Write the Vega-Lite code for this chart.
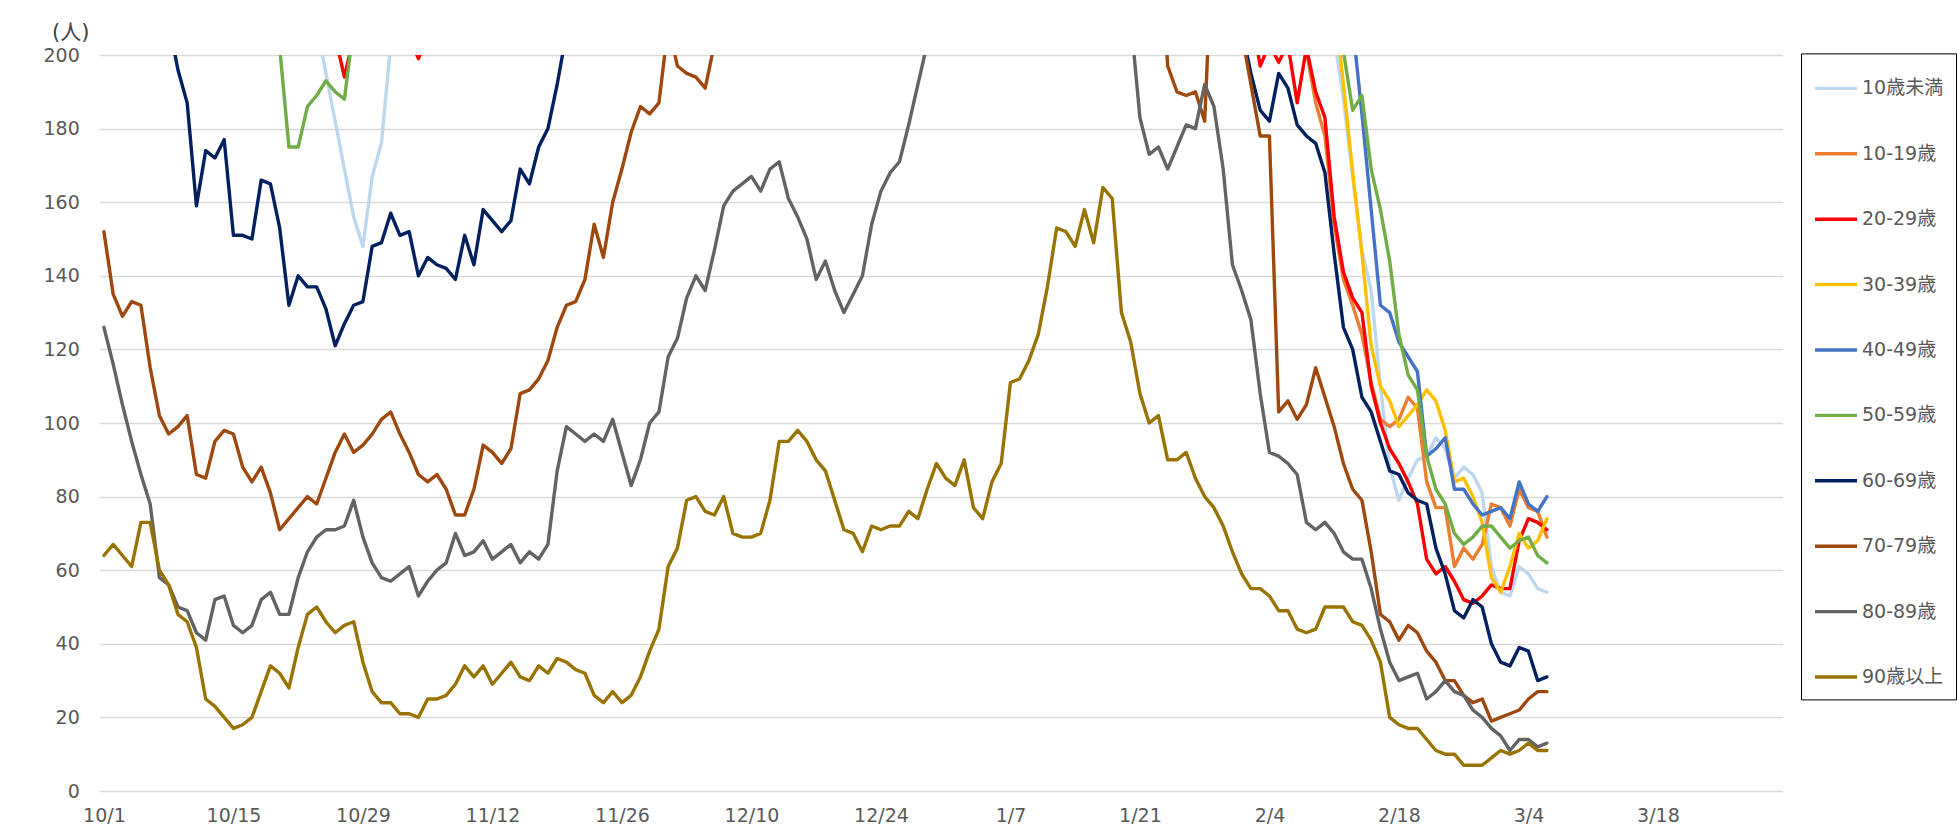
{
"$schema": "https://vega.github.io/schema/vega-lite/v6.json",
"width": 1683.5, "height": 736,
"autosize": {"type": "none"},
"padding": {"left": 99.3, "top": 55, "right": 174.2, "bottom": 46},
"background": "white",
"config": {"view": {"stroke": null}},
"data": {"values": [
{"d":"2020-10-24","s":"10歳未満","v":208},{"d":"2020-10-25","s":"10歳未満","v":195},{"d":"2020-10-26","s":"10歳未満","v":182},{"d":"2020-10-27","s":"10歳未満","v":169},{"d":"2020-10-28","s":"10歳未満","v":156},{"d":"2020-10-29","s":"10歳未満","v":148},{"d":"2020-10-30","s":"10歳未満","v":167},{"d":"2020-10-31","s":"10歳未満","v":176},{"d":"2020-11-01","s":"10歳未満","v":203},
{"d":"2021-02-10","s":"10歳未満","v":225},{"d":"2021-02-11","s":"10歳未満","v":205},{"d":"2021-02-12","s":"10歳未満","v":188},{"d":"2021-02-13","s":"10歳未満","v":167},{"d":"2021-02-14","s":"10歳未満","v":147},{"d":"2021-02-15","s":"10歳未満","v":136},{"d":"2021-02-16","s":"10歳未満","v":110},{"d":"2021-02-17","s":"10歳未満","v":88},{"d":"2021-02-18","s":"10歳未満","v":79},{"d":"2021-02-19","s":"10歳未満","v":85},{"d":"2021-02-20","s":"10歳未満","v":90},{"d":"2021-02-21","s":"10歳未満","v":91},{"d":"2021-02-22","s":"10歳未満","v":96},{"d":"2021-02-23","s":"10歳未満","v":93},{"d":"2021-02-24","s":"10歳未満","v":85},{"d":"2021-02-25","s":"10歳未満","v":88},{"d":"2021-02-26","s":"10歳未満","v":86},{"d":"2021-02-27","s":"10歳未満","v":81},{"d":"2021-02-28","s":"10歳未満","v":61},{"d":"2021-03-01","s":"10歳未満","v":54},{"d":"2021-03-02","s":"10歳未満","v":53},{"d":"2021-03-03","s":"10歳未満","v":61},{"d":"2021-03-04","s":"10歳未満","v":59},{"d":"2021-03-05","s":"10歳未満","v":55},{"d":"2021-03-06","s":"10歳未満","v":54},
{"d":"2021-02-07","s":"10-19歳","v":212},{"d":"2021-02-08","s":"10-19歳","v":201},{"d":"2021-02-09","s":"10-19歳","v":187},{"d":"2021-02-10","s":"10-19歳","v":178},{"d":"2021-02-11","s":"10-19歳","v":154},{"d":"2021-02-12","s":"10-19歳","v":139},{"d":"2021-02-13","s":"10-19歳","v":132},{"d":"2021-02-14","s":"10-19歳","v":124},{"d":"2021-02-15","s":"10-19歳","v":111},{"d":"2021-02-16","s":"10-19歳","v":101},{"d":"2021-02-17","s":"10-19歳","v":99},{"d":"2021-02-18","s":"10-19歳","v":101},{"d":"2021-02-19","s":"10-19歳","v":107},{"d":"2021-02-20","s":"10-19歳","v":104},{"d":"2021-02-21","s":"10-19歳","v":84},{"d":"2021-02-22","s":"10-19歳","v":77},{"d":"2021-02-23","s":"10-19歳","v":77},{"d":"2021-02-24","s":"10-19歳","v":61},{"d":"2021-02-25","s":"10-19歳","v":66},{"d":"2021-02-26","s":"10-19歳","v":63},{"d":"2021-02-27","s":"10-19歳","v":67},{"d":"2021-02-28","s":"10-19歳","v":78},{"d":"2021-03-01","s":"10-19歳","v":77},{"d":"2021-03-02","s":"10-19歳","v":72},{"d":"2021-03-03","s":"10-19歳","v":82},{"d":"2021-03-04","s":"10-19歳","v":77},{"d":"2021-03-05","s":"10-19歳","v":76},{"d":"2021-03-06","s":"10-19歳","v":69},
{"d":"2020-10-26","s":"20-29歳","v":205},{"d":"2020-10-27","s":"20-29歳","v":194},{"d":"2020-10-28","s":"20-29歳","v":205},{"d":"2020-11-03","s":"20-29歳","v":205},{"d":"2020-11-04","s":"20-29歳","v":199},{"d":"2020-11-05","s":"20-29歳","v":205},
{"d":"2021-02-02","s":"20-29歳","v":212},{"d":"2021-02-03","s":"20-29歳","v":197},{"d":"2021-02-04","s":"20-29歳","v":203},{"d":"2021-02-05","s":"20-29歳","v":198},{"d":"2021-02-06","s":"20-29歳","v":203},{"d":"2021-02-07","s":"20-29歳","v":187},{"d":"2021-02-08","s":"20-29歳","v":202},{"d":"2021-02-09","s":"20-29歳","v":190},{"d":"2021-02-10","s":"20-29歳","v":183},{"d":"2021-02-11","s":"20-29歳","v":156},{"d":"2021-02-12","s":"20-29歳","v":141},{"d":"2021-02-13","s":"20-29歳","v":134},{"d":"2021-02-14","s":"20-29歳","v":130},{"d":"2021-02-15","s":"20-29歳","v":110},{"d":"2021-02-16","s":"20-29歳","v":100},{"d":"2021-02-17","s":"20-29歳","v":93},{"d":"2021-02-18","s":"20-29歳","v":89},{"d":"2021-02-19","s":"20-29歳","v":84},{"d":"2021-02-20","s":"20-29歳","v":78},{"d":"2021-02-21","s":"20-29歳","v":63},{"d":"2021-02-22","s":"20-29歳","v":59},{"d":"2021-02-23","s":"20-29歳","v":61},{"d":"2021-02-24","s":"20-29歳","v":57},{"d":"2021-02-25","s":"20-29歳","v":52},{"d":"2021-02-26","s":"20-29歳","v":51},{"d":"2021-02-27","s":"20-29歳","v":53},{"d":"2021-02-28","s":"20-29歳","v":56},{"d":"2021-03-01","s":"20-29歳","v":55},{"d":"2021-03-02","s":"20-29歳","v":55},{"d":"2021-03-03","s":"20-29歳","v":68},{"d":"2021-03-04","s":"20-29歳","v":74},{"d":"2021-03-05","s":"20-29歳","v":73},{"d":"2021-03-06","s":"20-29歳","v":71},
{"d":"2021-02-11","s":"30-39歳","v":215},{"d":"2021-02-12","s":"30-39歳","v":192},{"d":"2021-02-13","s":"30-39歳","v":168},{"d":"2021-02-14","s":"30-39歳","v":146},{"d":"2021-02-15","s":"30-39歳","v":121},{"d":"2021-02-16","s":"30-39歳","v":110},{"d":"2021-02-17","s":"30-39歳","v":106},{"d":"2021-02-18","s":"30-39歳","v":99},{"d":"2021-02-19","s":"30-39歳","v":102},{"d":"2021-02-20","s":"30-39歳","v":105},{"d":"2021-02-21","s":"30-39歳","v":109},{"d":"2021-02-22","s":"30-39歳","v":106},{"d":"2021-02-23","s":"30-39歳","v":98},{"d":"2021-02-24","s":"30-39歳","v":84},{"d":"2021-02-25","s":"30-39歳","v":85},{"d":"2021-02-26","s":"30-39歳","v":80},{"d":"2021-02-27","s":"30-39歳","v":73},{"d":"2021-02-28","s":"30-39歳","v":58},{"d":"2021-03-01","s":"30-39歳","v":54},{"d":"2021-03-02","s":"30-39歳","v":61},{"d":"2021-03-03","s":"30-39歳","v":70},{"d":"2021-03-04","s":"30-39歳","v":66},{"d":"2021-03-05","s":"30-39歳","v":68},{"d":"2021-03-06","s":"30-39歳","v":74},
{"d":"2021-02-12","s":"40-49歳","v":240},{"d":"2021-02-13","s":"40-49歳","v":208},{"d":"2021-02-14","s":"40-49歳","v":184},{"d":"2021-02-15","s":"40-49歳","v":158},{"d":"2021-02-16","s":"40-49歳","v":132},{"d":"2021-02-17","s":"40-49歳","v":130},{"d":"2021-02-18","s":"40-49歳","v":122},{"d":"2021-02-19","s":"40-49歳","v":118},{"d":"2021-02-20","s":"40-49歳","v":114},{"d":"2021-02-21","s":"40-49歳","v":91},{"d":"2021-02-22","s":"40-49歳","v":93},{"d":"2021-02-23","s":"40-49歳","v":96},{"d":"2021-02-24","s":"40-49歳","v":82},{"d":"2021-02-25","s":"40-49歳","v":82},{"d":"2021-02-26","s":"40-49歳","v":78},{"d":"2021-02-27","s":"40-49歳","v":75},{"d":"2021-02-28","s":"40-49歳","v":76},{"d":"2021-03-01","s":"40-49歳","v":77},{"d":"2021-03-02","s":"40-49歳","v":74},{"d":"2021-03-03","s":"40-49歳","v":84},{"d":"2021-03-04","s":"40-49歳","v":78},{"d":"2021-03-05","s":"40-49歳","v":76},{"d":"2021-03-06","s":"40-49歳","v":80},
{"d":"2020-10-19","s":"50-59歳","v":230},{"d":"2020-10-20","s":"50-59歳","v":202},{"d":"2020-10-21","s":"50-59歳","v":175},{"d":"2020-10-22","s":"50-59歳","v":175},{"d":"2020-10-23","s":"50-59歳","v":186},{"d":"2020-10-24","s":"50-59歳","v":189},{"d":"2020-10-25","s":"50-59歳","v":193},{"d":"2020-10-26","s":"50-59歳","v":190},{"d":"2020-10-27","s":"50-59歳","v":188},{"d":"2020-10-28","s":"50-59歳","v":208},
{"d":"2021-02-11","s":"50-59歳","v":230},{"d":"2021-02-12","s":"50-59歳","v":201},{"d":"2021-02-13","s":"50-59歳","v":185},{"d":"2021-02-14","s":"50-59歳","v":189},{"d":"2021-02-15","s":"50-59歳","v":169},{"d":"2021-02-16","s":"50-59歳","v":158},{"d":"2021-02-17","s":"50-59歳","v":144},{"d":"2021-02-18","s":"50-59歳","v":124},{"d":"2021-02-19","s":"50-59歳","v":113},{"d":"2021-02-20","s":"50-59歳","v":109},{"d":"2021-02-21","s":"50-59歳","v":91},{"d":"2021-02-22","s":"50-59歳","v":82},{"d":"2021-02-23","s":"50-59歳","v":78},{"d":"2021-02-24","s":"50-59歳","v":70},{"d":"2021-02-25","s":"50-59歳","v":67},{"d":"2021-02-26","s":"50-59歳","v":69},{"d":"2021-02-27","s":"50-59歳","v":72},{"d":"2021-02-28","s":"50-59歳","v":72},{"d":"2021-03-01","s":"50-59歳","v":69},{"d":"2021-03-02","s":"50-59歳","v":66},{"d":"2021-03-03","s":"50-59歳","v":68},{"d":"2021-03-04","s":"50-59歳","v":69},{"d":"2021-03-05","s":"50-59歳","v":64},{"d":"2021-03-06","s":"50-59歳","v":62},
{"d":"2020-10-08","s":"60-69歳","v":209},{"d":"2020-10-09","s":"60-69歳","v":196},{"d":"2020-10-10","s":"60-69歳","v":187},{"d":"2020-10-11","s":"60-69歳","v":159},{"d":"2020-10-12","s":"60-69歳","v":174},{"d":"2020-10-13","s":"60-69歳","v":172},{"d":"2020-10-14","s":"60-69歳","v":177},{"d":"2020-10-15","s":"60-69歳","v":151},{"d":"2020-10-16","s":"60-69歳","v":151},{"d":"2020-10-17","s":"60-69歳","v":150},{"d":"2020-10-18","s":"60-69歳","v":166},{"d":"2020-10-19","s":"60-69歳","v":165},{"d":"2020-10-20","s":"60-69歳","v":153},{"d":"2020-10-21","s":"60-69歳","v":132},{"d":"2020-10-22","s":"60-69歳","v":140},{"d":"2020-10-23","s":"60-69歳","v":137},{"d":"2020-10-24","s":"60-69歳","v":137},{"d":"2020-10-25","s":"60-69歳","v":131},{"d":"2020-10-26","s":"60-69歳","v":121},{"d":"2020-10-27","s":"60-69歳","v":127},{"d":"2020-10-28","s":"60-69歳","v":132},{"d":"2020-10-29","s":"60-69歳","v":133},{"d":"2020-10-30","s":"60-69歳","v":148},{"d":"2020-10-31","s":"60-69歳","v":149},{"d":"2020-11-01","s":"60-69歳","v":157},{"d":"2020-11-02","s":"60-69歳","v":151},{"d":"2020-11-03","s":"60-69歳","v":152},{"d":"2020-11-04","s":"60-69歳","v":140},{"d":"2020-11-05","s":"60-69歳","v":145},{"d":"2020-11-06","s":"60-69歳","v":143},{"d":"2020-11-07","s":"60-69歳","v":142},{"d":"2020-11-08","s":"60-69歳","v":139},{"d":"2020-11-09","s":"60-69歳","v":151},{"d":"2020-11-10","s":"60-69歳","v":143},{"d":"2020-11-11","s":"60-69歳","v":158},{"d":"2020-11-12","s":"60-69歳","v":155},{"d":"2020-11-13","s":"60-69歳","v":152},{"d":"2020-11-14","s":"60-69歳","v":155},{"d":"2020-11-15","s":"60-69歳","v":169},{"d":"2020-11-16","s":"60-69歳","v":165},{"d":"2020-11-17","s":"60-69歳","v":175},{"d":"2020-11-18","s":"60-69歳","v":180},{"d":"2020-11-19","s":"60-69歳","v":192},{"d":"2020-11-20","s":"60-69歳","v":206},
{"d":"2021-01-31","s":"60-69歳","v":230},{"d":"2021-02-01","s":"60-69歳","v":207},{"d":"2021-02-02","s":"60-69歳","v":195},{"d":"2021-02-03","s":"60-69歳","v":185},{"d":"2021-02-04","s":"60-69歳","v":182},{"d":"2021-02-05","s":"60-69歳","v":195},{"d":"2021-02-06","s":"60-69歳","v":191},{"d":"2021-02-07","s":"60-69歳","v":181},{"d":"2021-02-08","s":"60-69歳","v":178},{"d":"2021-02-09","s":"60-69歳","v":176},{"d":"2021-02-10","s":"60-69歳","v":168},{"d":"2021-02-11","s":"60-69歳","v":146},{"d":"2021-02-12","s":"60-69歳","v":126},{"d":"2021-02-13","s":"60-69歳","v":120},{"d":"2021-02-14","s":"60-69歳","v":107},{"d":"2021-02-15","s":"60-69歳","v":103},{"d":"2021-02-16","s":"60-69歳","v":95},{"d":"2021-02-17","s":"60-69歳","v":87},{"d":"2021-02-18","s":"60-69歳","v":86},{"d":"2021-02-19","s":"60-69歳","v":81},{"d":"2021-02-20","s":"60-69歳","v":79},{"d":"2021-02-21","s":"60-69歳","v":78},{"d":"2021-02-22","s":"60-69歳","v":66},{"d":"2021-02-23","s":"60-69歳","v":59},{"d":"2021-02-24","s":"60-69歳","v":49},{"d":"2021-02-25","s":"60-69歳","v":47},{"d":"2021-02-26","s":"60-69歳","v":52},{"d":"2021-02-27","s":"60-69歳","v":50},{"d":"2021-02-28","s":"60-69歳","v":40},{"d":"2021-03-01","s":"60-69歳","v":35},{"d":"2021-03-02","s":"60-69歳","v":34},{"d":"2021-03-03","s":"60-69歳","v":39},{"d":"2021-03-04","s":"60-69歳","v":38},{"d":"2021-03-05","s":"60-69歳","v":30},{"d":"2021-03-06","s":"60-69歳","v":31},
{"d":"2020-10-01","s":"70-79歳","v":152},{"d":"2020-10-02","s":"70-79歳","v":135},{"d":"2020-10-03","s":"70-79歳","v":129},{"d":"2020-10-04","s":"70-79歳","v":133},{"d":"2020-10-05","s":"70-79歳","v":132},{"d":"2020-10-06","s":"70-79歳","v":115},{"d":"2020-10-07","s":"70-79歳","v":102},{"d":"2020-10-08","s":"70-79歳","v":97},{"d":"2020-10-09","s":"70-79歳","v":99},{"d":"2020-10-10","s":"70-79歳","v":102},{"d":"2020-10-11","s":"70-79歳","v":86},{"d":"2020-10-12","s":"70-79歳","v":85},{"d":"2020-10-13","s":"70-79歳","v":95},{"d":"2020-10-14","s":"70-79歳","v":98},{"d":"2020-10-15","s":"70-79歳","v":97},{"d":"2020-10-16","s":"70-79歳","v":88},{"d":"2020-10-17","s":"70-79歳","v":84},{"d":"2020-10-18","s":"70-79歳","v":88},{"d":"2020-10-19","s":"70-79歳","v":81},{"d":"2020-10-20","s":"70-79歳","v":71},{"d":"2020-10-21","s":"70-79歳","v":74},{"d":"2020-10-22","s":"70-79歳","v":77},{"d":"2020-10-23","s":"70-79歳","v":80},{"d":"2020-10-24","s":"70-79歳","v":78},{"d":"2020-10-25","s":"70-79歳","v":85},{"d":"2020-10-26","s":"70-79歳","v":92},{"d":"2020-10-27","s":"70-79歳","v":97},{"d":"2020-10-28","s":"70-79歳","v":92},{"d":"2020-10-29","s":"70-79歳","v":94},{"d":"2020-10-30","s":"70-79歳","v":97},{"d":"2020-10-31","s":"70-79歳","v":101},{"d":"2020-11-01","s":"70-79歳","v":103},{"d":"2020-11-02","s":"70-79歳","v":97},{"d":"2020-11-03","s":"70-79歳","v":92},{"d":"2020-11-04","s":"70-79歳","v":86},{"d":"2020-11-05","s":"70-79歳","v":84},{"d":"2020-11-06","s":"70-79歳","v":86},{"d":"2020-11-07","s":"70-79歳","v":82},{"d":"2020-11-08","s":"70-79歳","v":75},{"d":"2020-11-09","s":"70-79歳","v":75},{"d":"2020-11-10","s":"70-79歳","v":82},{"d":"2020-11-11","s":"70-79歳","v":94},{"d":"2020-11-12","s":"70-79歳","v":92},{"d":"2020-11-13","s":"70-79歳","v":89},{"d":"2020-11-14","s":"70-79歳","v":93},{"d":"2020-11-15","s":"70-79歳","v":108},{"d":"2020-11-16","s":"70-79歳","v":109},{"d":"2020-11-17","s":"70-79歳","v":112},{"d":"2020-11-18","s":"70-79歳","v":117},{"d":"2020-11-19","s":"70-79歳","v":126},{"d":"2020-11-20","s":"70-79歳","v":132},{"d":"2020-11-21","s":"70-79歳","v":133},{"d":"2020-11-22","s":"70-79歳","v":139},{"d":"2020-11-23","s":"70-79歳","v":154},{"d":"2020-11-24","s":"70-79歳","v":145},{"d":"2020-11-25","s":"70-79歳","v":160},{"d":"2020-11-26","s":"70-79歳","v":169},{"d":"2020-11-27","s":"70-79歳","v":179},{"d":"2020-11-28","s":"70-79歳","v":186},{"d":"2020-11-29","s":"70-79歳","v":184},{"d":"2020-11-30","s":"70-79歳","v":187},{"d":"2020-12-01","s":"70-79歳","v":208},{"d":"2020-12-02","s":"70-79歳","v":197},{"d":"2020-12-03","s":"70-79歳","v":195},{"d":"2020-12-04","s":"70-79歳","v":194},{"d":"2020-12-05","s":"70-79歳","v":191},{"d":"2020-12-06","s":"70-79歳","v":203},
{"d":"2021-01-23","s":"70-79歳","v":240},{"d":"2021-01-24","s":"70-79歳","v":197},{"d":"2021-01-25","s":"70-79歳","v":190},{"d":"2021-01-26","s":"70-79歳","v":189},{"d":"2021-01-27","s":"70-79歳","v":190},{"d":"2021-01-28","s":"70-79歳","v":182},{"d":"2021-01-29","s":"70-79歳","v":240},
{"d":"2021-02-01","s":"70-79歳","v":206},{"d":"2021-02-02","s":"70-79歳","v":192},{"d":"2021-02-03","s":"70-79歳","v":178},{"d":"2021-02-04","s":"70-79歳","v":178},{"d":"2021-02-05","s":"70-79歳","v":103},{"d":"2021-02-06","s":"70-79歳","v":106},{"d":"2021-02-07","s":"70-79歳","v":101},{"d":"2021-02-08","s":"70-79歳","v":105},{"d":"2021-02-09","s":"70-79歳","v":115},{"d":"2021-02-10","s":"70-79歳","v":107},{"d":"2021-02-11","s":"70-79歳","v":99},{"d":"2021-02-12","s":"70-79歳","v":89},{"d":"2021-02-13","s":"70-79歳","v":82},{"d":"2021-02-14","s":"70-79歳","v":79},{"d":"2021-02-15","s":"70-79歳","v":65},{"d":"2021-02-16","s":"70-79歳","v":48},{"d":"2021-02-17","s":"70-79歳","v":46},{"d":"2021-02-18","s":"70-79歳","v":41},{"d":"2021-02-19","s":"70-79歳","v":45},{"d":"2021-02-20","s":"70-79歳","v":43},{"d":"2021-02-21","s":"70-79歳","v":38},{"d":"2021-02-22","s":"70-79歳","v":35},{"d":"2021-02-23","s":"70-79歳","v":30},{"d":"2021-02-24","s":"70-79歳","v":30},{"d":"2021-02-25","s":"70-79歳","v":26},{"d":"2021-02-26","s":"70-79歳","v":24},{"d":"2021-02-27","s":"70-79歳","v":25},{"d":"2021-02-28","s":"70-79歳","v":19},{"d":"2021-03-01","s":"70-79歳","v":20},{"d":"2021-03-02","s":"70-79歳","v":21},{"d":"2021-03-03","s":"70-79歳","v":22},{"d":"2021-03-04","s":"70-79歳","v":25},{"d":"2021-03-05","s":"70-79歳","v":27},{"d":"2021-03-06","s":"70-79歳","v":27},
{"d":"2020-10-01","s":"80-89歳","v":126},{"d":"2020-10-02","s":"80-89歳","v":116},{"d":"2020-10-03","s":"80-89歳","v":105},{"d":"2020-10-04","s":"80-89歳","v":95},{"d":"2020-10-05","s":"80-89歳","v":86},{"d":"2020-10-06","s":"80-89歳","v":78},{"d":"2020-10-07","s":"80-89歳","v":58},{"d":"2020-10-08","s":"80-89歳","v":56},{"d":"2020-10-09","s":"80-89歳","v":50},{"d":"2020-10-10","s":"80-89歳","v":49},{"d":"2020-10-11","s":"80-89歳","v":43},{"d":"2020-10-12","s":"80-89歳","v":41},{"d":"2020-10-13","s":"80-89歳","v":52},{"d":"2020-10-14","s":"80-89歳","v":53},{"d":"2020-10-15","s":"80-89歳","v":45},{"d":"2020-10-16","s":"80-89歳","v":43},{"d":"2020-10-17","s":"80-89歳","v":45},{"d":"2020-10-18","s":"80-89歳","v":52},{"d":"2020-10-19","s":"80-89歳","v":54},{"d":"2020-10-20","s":"80-89歳","v":48},{"d":"2020-10-21","s":"80-89歳","v":48},{"d":"2020-10-22","s":"80-89歳","v":58},{"d":"2020-10-23","s":"80-89歳","v":65},{"d":"2020-10-24","s":"80-89歳","v":69},{"d":"2020-10-25","s":"80-89歳","v":71},{"d":"2020-10-26","s":"80-89歳","v":71},{"d":"2020-10-27","s":"80-89歳","v":72},{"d":"2020-10-28","s":"80-89歳","v":79},{"d":"2020-10-29","s":"80-89歳","v":69},{"d":"2020-10-30","s":"80-89歳","v":62},{"d":"2020-10-31","s":"80-89歳","v":58},{"d":"2020-11-01","s":"80-89歳","v":57},{"d":"2020-11-02","s":"80-89歳","v":59},{"d":"2020-11-03","s":"80-89歳","v":61},{"d":"2020-11-04","s":"80-89歳","v":53},{"d":"2020-11-05","s":"80-89歳","v":57},{"d":"2020-11-06","s":"80-89歳","v":60},{"d":"2020-11-07","s":"80-89歳","v":62},{"d":"2020-11-08","s":"80-89歳","v":70},{"d":"2020-11-09","s":"80-89歳","v":64},{"d":"2020-11-10","s":"80-89歳","v":65},{"d":"2020-11-11","s":"80-89歳","v":68},{"d":"2020-11-12","s":"80-89歳","v":63},{"d":"2020-11-13","s":"80-89歳","v":65},{"d":"2020-11-14","s":"80-89歳","v":67},{"d":"2020-11-15","s":"80-89歳","v":62},{"d":"2020-11-16","s":"80-89歳","v":65},{"d":"2020-11-17","s":"80-89歳","v":63},{"d":"2020-11-18","s":"80-89歳","v":67},{"d":"2020-11-19","s":"80-89歳","v":87},{"d":"2020-11-20","s":"80-89歳","v":99},{"d":"2020-11-21","s":"80-89歳","v":97},{"d":"2020-11-22","s":"80-89歳","v":95},{"d":"2020-11-23","s":"80-89歳","v":97},{"d":"2020-11-24","s":"80-89歳","v":95},{"d":"2020-11-25","s":"80-89歳","v":101},{"d":"2020-11-26","s":"80-89歳","v":92},{"d":"2020-11-27","s":"80-89歳","v":83},{"d":"2020-11-28","s":"80-89歳","v":90},{"d":"2020-11-29","s":"80-89歳","v":100},{"d":"2020-11-30","s":"80-89歳","v":103},{"d":"2020-12-01","s":"80-89歳","v":118},{"d":"2020-12-02","s":"80-89歳","v":123},{"d":"2020-12-03","s":"80-89歳","v":134},{"d":"2020-12-04","s":"80-89歳","v":140},{"d":"2020-12-05","s":"80-89歳","v":136},{"d":"2020-12-06","s":"80-89歳","v":147},{"d":"2020-12-07","s":"80-89歳","v":159},{"d":"2020-12-08","s":"80-89歳","v":163},{"d":"2020-12-09","s":"80-89歳","v":165},{"d":"2020-12-10","s":"80-89歳","v":167},{"d":"2020-12-11","s":"80-89歳","v":163},{"d":"2020-12-12","s":"80-89歳","v":169},{"d":"2020-12-13","s":"80-89歳","v":171},{"d":"2020-12-14","s":"80-89歳","v":161},{"d":"2020-12-15","s":"80-89歳","v":156},{"d":"2020-12-16","s":"80-89歳","v":150},{"d":"2020-12-17","s":"80-89歳","v":139},{"d":"2020-12-18","s":"80-89歳","v":144},{"d":"2020-12-19","s":"80-89歳","v":136},{"d":"2020-12-20","s":"80-89歳","v":130},{"d":"2020-12-21","s":"80-89歳","v":135},{"d":"2020-12-22","s":"80-89歳","v":140},{"d":"2020-12-23","s":"80-89歳","v":154},{"d":"2020-12-24","s":"80-89歳","v":163},{"d":"2020-12-25","s":"80-89歳","v":168},{"d":"2020-12-26","s":"80-89歳","v":171},{"d":"2020-12-27","s":"80-89歳","v":181},{"d":"2020-12-28","s":"80-89歳","v":192},{"d":"2020-12-29","s":"80-89歳","v":203},
{"d":"2021-01-20","s":"80-89歳","v":210},{"d":"2021-01-21","s":"80-89歳","v":183},{"d":"2021-01-22","s":"80-89歳","v":173},{"d":"2021-01-23","s":"80-89歳","v":175},{"d":"2021-01-24","s":"80-89歳","v":169},{"d":"2021-01-25","s":"80-89歳","v":175},{"d":"2021-01-26","s":"80-89歳","v":181},{"d":"2021-01-27","s":"80-89歳","v":180},{"d":"2021-01-28","s":"80-89歳","v":192},{"d":"2021-01-29","s":"80-89歳","v":186},{"d":"2021-01-30","s":"80-89歳","v":169},{"d":"2021-01-31","s":"80-89歳","v":143},{"d":"2021-02-01","s":"80-89歳","v":136},{"d":"2021-02-02","s":"80-89歳","v":128},{"d":"2021-02-03","s":"80-89歳","v":108},{"d":"2021-02-04","s":"80-89歳","v":92},{"d":"2021-02-05","s":"80-89歳","v":91},{"d":"2021-02-06","s":"80-89歳","v":89},{"d":"2021-02-07","s":"80-89歳","v":86},{"d":"2021-02-08","s":"80-89歳","v":73},{"d":"2021-02-09","s":"80-89歳","v":71},{"d":"2021-02-10","s":"80-89歳","v":73},{"d":"2021-02-11","s":"80-89歳","v":70},{"d":"2021-02-12","s":"80-89歳","v":65},{"d":"2021-02-13","s":"80-89歳","v":63},{"d":"2021-02-14","s":"80-89歳","v":63},{"d":"2021-02-15","s":"80-89歳","v":55},{"d":"2021-02-16","s":"80-89歳","v":44},{"d":"2021-02-17","s":"80-89歳","v":35},{"d":"2021-02-18","s":"80-89歳","v":30},{"d":"2021-02-19","s":"80-89歳","v":31},{"d":"2021-02-20","s":"80-89歳","v":32},{"d":"2021-02-21","s":"80-89歳","v":25},{"d":"2021-02-22","s":"80-89歳","v":27},{"d":"2021-02-23","s":"80-89歳","v":30},{"d":"2021-02-24","s":"80-89歳","v":27},{"d":"2021-02-25","s":"80-89歳","v":26},{"d":"2021-02-26","s":"80-89歳","v":22},{"d":"2021-02-27","s":"80-89歳","v":20},{"d":"2021-02-28","s":"80-89歳","v":17},{"d":"2021-03-01","s":"80-89歳","v":15},{"d":"2021-03-02","s":"80-89歳","v":11},{"d":"2021-03-03","s":"80-89歳","v":14},{"d":"2021-03-04","s":"80-89歳","v":14},{"d":"2021-03-05","s":"80-89歳","v":12},{"d":"2021-03-06","s":"80-89歳","v":13},
{"d":"2020-10-01","s":"90歳以上","v":64},{"d":"2020-10-02","s":"90歳以上","v":67},{"d":"2020-10-03","s":"90歳以上","v":64},{"d":"2020-10-04","s":"90歳以上","v":61},{"d":"2020-10-05","s":"90歳以上","v":73},{"d":"2020-10-06","s":"90歳以上","v":73},{"d":"2020-10-07","s":"90歳以上","v":60},{"d":"2020-10-08","s":"90歳以上","v":56},{"d":"2020-10-09","s":"90歳以上","v":48},{"d":"2020-10-10","s":"90歳以上","v":46},{"d":"2020-10-11","s":"90歳以上","v":39},{"d":"2020-10-12","s":"90歳以上","v":25},{"d":"2020-10-13","s":"90歳以上","v":23},{"d":"2020-10-14","s":"90歳以上","v":20},{"d":"2020-10-15","s":"90歳以上","v":17},{"d":"2020-10-16","s":"90歳以上","v":18},{"d":"2020-10-17","s":"90歳以上","v":20},{"d":"2020-10-18","s":"90歳以上","v":27},{"d":"2020-10-19","s":"90歳以上","v":34},{"d":"2020-10-20","s":"90歳以上","v":32},{"d":"2020-10-21","s":"90歳以上","v":28},{"d":"2020-10-22","s":"90歳以上","v":39},{"d":"2020-10-23","s":"90歳以上","v":48},{"d":"2020-10-24","s":"90歳以上","v":50},{"d":"2020-10-25","s":"90歳以上","v":46},{"d":"2020-10-26","s":"90歳以上","v":43},{"d":"2020-10-27","s":"90歳以上","v":45},{"d":"2020-10-28","s":"90歳以上","v":46},{"d":"2020-10-29","s":"90歳以上","v":35},{"d":"2020-10-30","s":"90歳以上","v":27},{"d":"2020-10-31","s":"90歳以上","v":24},
{"d":"2020-11-01","s":"90歳以上","v":24},{"d":"2020-11-02","s":"90歳以上","v":21},{"d":"2020-11-03","s":"90歳以上","v":21},{"d":"2020-11-04","s":"90歳以上","v":20},{"d":"2020-11-05","s":"90歳以上","v":25},{"d":"2020-11-06","s":"90歳以上","v":25},{"d":"2020-11-07","s":"90歳以上","v":26},{"d":"2020-11-08","s":"90歳以上","v":29},{"d":"2020-11-09","s":"90歳以上","v":34},{"d":"2020-11-10","s":"90歳以上","v":31},{"d":"2020-11-11","s":"90歳以上","v":34},{"d":"2020-11-12","s":"90歳以上","v":29},{"d":"2020-11-13","s":"90歳以上","v":32},{"d":"2020-11-14","s":"90歳以上","v":35},{"d":"2020-11-15","s":"90歳以上","v":31},{"d":"2020-11-16","s":"90歳以上","v":30},{"d":"2020-11-17","s":"90歳以上","v":34},{"d":"2020-11-18","s":"90歳以上","v":32},{"d":"2020-11-19","s":"90歳以上","v":36},{"d":"2020-11-20","s":"90歳以上","v":35},{"d":"2020-11-21","s":"90歳以上","v":33},{"d":"2020-11-22","s":"90歳以上","v":32},{"d":"2020-11-23","s":"90歳以上","v":26},{"d":"2020-11-24","s":"90歳以上","v":24},{"d":"2020-11-25","s":"90歳以上","v":27},{"d":"2020-11-26","s":"90歳以上","v":24},{"d":"2020-11-27","s":"90歳以上","v":26},{"d":"2020-11-28","s":"90歳以上","v":31},{"d":"2020-11-29","s":"90歳以上","v":38},{"d":"2020-11-30","s":"90歳以上","v":44},
{"d":"2020-12-01","s":"90歳以上","v":61},{"d":"2020-12-02","s":"90歳以上","v":66},{"d":"2020-12-03","s":"90歳以上","v":79},{"d":"2020-12-04","s":"90歳以上","v":80},{"d":"2020-12-05","s":"90歳以上","v":76},{"d":"2020-12-06","s":"90歳以上","v":75},{"d":"2020-12-07","s":"90歳以上","v":80},{"d":"2020-12-08","s":"90歳以上","v":70},{"d":"2020-12-09","s":"90歳以上","v":69},{"d":"2020-12-10","s":"90歳以上","v":69},{"d":"2020-12-11","s":"90歳以上","v":70},{"d":"2020-12-12","s":"90歳以上","v":79},{"d":"2020-12-13","s":"90歳以上","v":95},{"d":"2020-12-14","s":"90歳以上","v":95},{"d":"2020-12-15","s":"90歳以上","v":98},{"d":"2020-12-16","s":"90歳以上","v":95},{"d":"2020-12-17","s":"90歳以上","v":90},{"d":"2020-12-18","s":"90歳以上","v":87},{"d":"2020-12-19","s":"90歳以上","v":79},{"d":"2020-12-20","s":"90歳以上","v":71},{"d":"2020-12-21","s":"90歳以上","v":70},{"d":"2020-12-22","s":"90歳以上","v":65},{"d":"2020-12-23","s":"90歳以上","v":72},{"d":"2020-12-24","s":"90歳以上","v":71},{"d":"2020-12-25","s":"90歳以上","v":72},{"d":"2020-12-26","s":"90歳以上","v":72},{"d":"2020-12-27","s":"90歳以上","v":76},{"d":"2020-12-28","s":"90歳以上","v":74},{"d":"2020-12-29","s":"90歳以上","v":82},{"d":"2020-12-30","s":"90歳以上","v":89},{"d":"2020-12-31","s":"90歳以上","v":85},
{"d":"2021-01-01","s":"90歳以上","v":83},{"d":"2021-01-02","s":"90歳以上","v":90},{"d":"2021-01-03","s":"90歳以上","v":77},{"d":"2021-01-04","s":"90歳以上","v":74},{"d":"2021-01-05","s":"90歳以上","v":84},{"d":"2021-01-06","s":"90歳以上","v":89},{"d":"2021-01-07","s":"90歳以上","v":111},{"d":"2021-01-08","s":"90歳以上","v":112},{"d":"2021-01-09","s":"90歳以上","v":117},{"d":"2021-01-10","s":"90歳以上","v":124},{"d":"2021-01-11","s":"90歳以上","v":137},{"d":"2021-01-12","s":"90歳以上","v":153},{"d":"2021-01-13","s":"90歳以上","v":152},{"d":"2021-01-14","s":"90歳以上","v":148},{"d":"2021-01-15","s":"90歳以上","v":158},{"d":"2021-01-16","s":"90歳以上","v":149},{"d":"2021-01-17","s":"90歳以上","v":164},{"d":"2021-01-18","s":"90歳以上","v":161},{"d":"2021-01-19","s":"90歳以上","v":130},{"d":"2021-01-20","s":"90歳以上","v":122},{"d":"2021-01-21","s":"90歳以上","v":108},{"d":"2021-01-22","s":"90歳以上","v":100},{"d":"2021-01-23","s":"90歳以上","v":102},{"d":"2021-01-24","s":"90歳以上","v":90},{"d":"2021-01-25","s":"90歳以上","v":90},{"d":"2021-01-26","s":"90歳以上","v":92},{"d":"2021-01-27","s":"90歳以上","v":85},{"d":"2021-01-28","s":"90歳以上","v":80},{"d":"2021-01-29","s":"90歳以上","v":77},{"d":"2021-01-30","s":"90歳以上","v":72},{"d":"2021-01-31","s":"90歳以上","v":65},
{"d":"2021-02-01","s":"90歳以上","v":59},{"d":"2021-02-02","s":"90歳以上","v":55},{"d":"2021-02-03","s":"90歳以上","v":55},{"d":"2021-02-04","s":"90歳以上","v":53},{"d":"2021-02-05","s":"90歳以上","v":49},{"d":"2021-02-06","s":"90歳以上","v":49},{"d":"2021-02-07","s":"90歳以上","v":44},{"d":"2021-02-08","s":"90歳以上","v":43},{"d":"2021-02-09","s":"90歳以上","v":44},{"d":"2021-02-10","s":"90歳以上","v":50},{"d":"2021-02-11","s":"90歳以上","v":50},{"d":"2021-02-12","s":"90歳以上","v":50},{"d":"2021-02-13","s":"90歳以上","v":46},{"d":"2021-02-14","s":"90歳以上","v":45},{"d":"2021-02-15","s":"90歳以上","v":41},{"d":"2021-02-16","s":"90歳以上","v":35},{"d":"2021-02-17","s":"90歳以上","v":20},{"d":"2021-02-18","s":"90歳以上","v":18},{"d":"2021-02-19","s":"90歳以上","v":17},{"d":"2021-02-20","s":"90歳以上","v":17},{"d":"2021-02-21","s":"90歳以上","v":14},{"d":"2021-02-22","s":"90歳以上","v":11},{"d":"2021-02-23","s":"90歳以上","v":10},{"d":"2021-02-24","s":"90歳以上","v":10},{"d":"2021-02-25","s":"90歳以上","v":7},{"d":"2021-02-26","s":"90歳以上","v":7},{"d":"2021-02-27","s":"90歳以上","v":7},{"d":"2021-02-28","s":"90歳以上","v":9},{"d":"2021-03-01","s":"90歳以上","v":11},{"d":"2021-03-02","s":"90歳以上","v":10},{"d":"2021-03-03","s":"90歳以上","v":11},{"d":"2021-03-04","s":"90歳以上","v":13},{"d":"2021-03-05","s":"90歳以上","v":11},{"d":"2021-03-06","s":"90歳以上","v":11}
]},
"mark": {"type": "line", "clip": true, "strokeWidth": 3.4, "strokeJoin": "round", "strokeCap": "round"},
"encoding": {
  "x": {"field": "d", "type": "temporal",
    "scale": {"type": "utc", "domain": [1601467200000, 1617192000000]},
    "axis": {"values": [1601510400000, 1602720000000, 1603929600000, 1605139200000, 1606348800000, 1607558400000, 1608768000000, 1609977600000, 1611187200000, 1612396800000, 1613606400000, 1614816000000, 1616025600000],
      "format": "%-m/%-d", "grid": false, "domain": false, "ticks": false, "tickSize": 0, "labelPadding": 15,
      "labelFont": "DejaVu Sans", "labelFontSize": 19, "labelColor": "#595959", "labelFlush": false, "labelOverlap": false, "title": null}},
  "y": {"field": "v", "type": "quantitative",
    "scale": {"domain": [0, 200], "nice": false},
    "axis": {"values": [0, 20, 40, 60, 80, 100, 120, 140, 160, 180, 200],
      "grid": true, "gridColor": "#D9D9D9", "gridWidth": 1.3, "domain": false, "ticks": false, "tickSize": 0, "labelPadding": 20,
      "labelFont": "DejaVu Sans", "labelFontSize": 19, "labelColor": "#595959",
      "title": "(人)", "titleAngle": 0, "titleX": -29, "titleY": -23, "titleAlign": "center", "titleBaseline": "middle",
      "titleFont": "DejaVu Sans, Noto Sans CJK JP", "titleFontSize": 21, "titleFontWeight": "normal", "titleColor": "#404040"}},
  "color": {"field": "s", "type": "nominal",
    "scale": {"domain": ["10歳未満", "10-19歳", "20-29歳", "30-39歳", "40-49歳", "50-59歳", "60-69歳", "70-79歳", "80-89歳", "90歳以上"],
      "range": ["#BDD7EE", "#ED7D31", "#FF0000", "#FFC000", "#4472C4", "#70AD47", "#002060", "#9E480E", "#636363", "#997300"]},
    "legend": {"title": null, "orient": "none", "legendX": 1701.7, "legendY": -1.6,
      "padding": 12, "rowPadding": 32.4, "strokeColor": "#000000", "fillColor": "#FFFFFF",
      "symbolType": "stroke", "symbolSize": 1764, "symbolStrokeWidth": 3.4, "labelOffset": 3,
      "labelFont": "DejaVu Sans, Noto Sans CJK JP", "labelFontSize": 19, "labelColor": "#595959", "labelLimit": 300}}
}
}
